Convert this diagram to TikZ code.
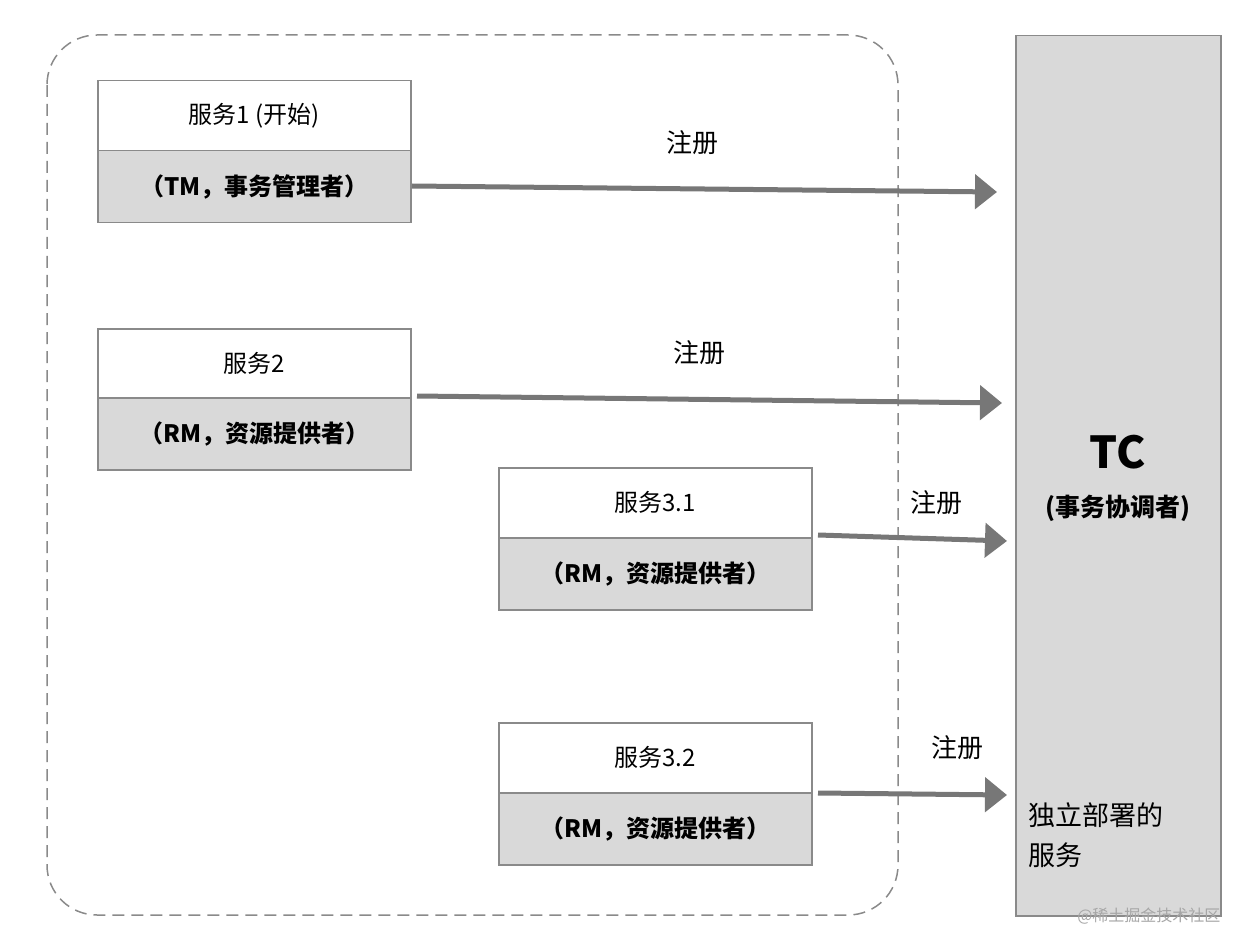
\documentclass[tikz,border=0pt]{standalone}
\usepackage{fontspec}
\setmainfont{Noto Sans CJK SC}
\usetikzlibrary{arrows.meta}
\definecolor{bd}{HTML}{8A8A8A}
\definecolor{gf}{HTML}{D9D9D9}
\definecolor{ar}{HTML}{777777}
\begin{document}
\begin{tikzpicture}[x=1pt,y=-1pt,
 top/.style={draw=bd,line width=1.5pt,fill=white,minimum width=313pt,minimum height=70pt,inner sep=0pt,anchor=north west,font=\fontsize{24}{28}\selectfont},
 bot/.style={draw=bd,line width=1.5pt,fill=gf,minimum width=313pt,minimum height=72pt,inner sep=0pt,anchor=north west,font=\fontsize{24}{28}\selectfont\bfseries},
 arr/.style={draw=ar,line width=5pt,-{Triangle[length=22pt,width=34pt]}},
 lab/.style={font=\fontsize{26}{30}\selectfont}]
\useasboundingbox (0,0) rectangle (1248,952);
\draw[bd,line width=1.5pt,dash pattern=on 12pt off 7pt,rounded corners=50pt] (47,35) rectangle (898,915);
\node[draw=bd,line width=1.5pt,fill=gf,minimum width=205pt,minimum height=880pt,anchor=north west,inner sep=0pt] (tc) at (1015,35) {};
\node[font=\fontsize{44}{48}\selectfont\bfseries] (tct) at (1118,452) {TC};
\node[font=\fontsize{25}{30}\selectfont\bfseries] (tcs) at (1118,508) {(事务协调者)};
\node[font=\fontsize{27}{40}\selectfont,anchor=north west,align=left,inner sep=0pt] (ind) at (1028,802) {独立部署的\\服务};
\node[top] (a1) at (97,80) {服务1 (开始)};
\node[bot] (b1) at (97,150) {（TM，事务管理者）};
\node[top] (a2) at (97,328) {服务2};
\node[bot] (b2) at (97,397) {（RM，资源提供者）};
\node[top] (a3) at (498,467) {服务3.1};
\node[bot] (b3) at (498,537) {（RM，资源提供者）};
\node[top] (a4) at (498,722) {服务3.2};
\node[bot] (b4) at (498,792) {（RM，资源提供者）};
\coordinate (e1) at (997,192);
\coordinate (e2) at (1002,403);
\coordinate (e3) at (1007,541);
\coordinate (e4) at (1007,795);
\draw[arr] (412,186) -- (e1);
\draw[arr] (417,396) -- (e2);
\draw[arr] (818,535) -- (e3);
\draw[arr] (818,793) -- (e4);
\node[lab] (l1) at (692,143) {注册};
\node[lab] (l2) at (699,353) {注册};
\node[lab] (l3) at (936,503) {注册};
\node[lab] (l4) at (957,748) {注册};
\node[font=\fontsize{16}{18}\selectfont,text=gray!70,anchor=east] (wm) at (1224,916) {@稀土掘金技术社区};
\end{tikzpicture}
\end{document}
